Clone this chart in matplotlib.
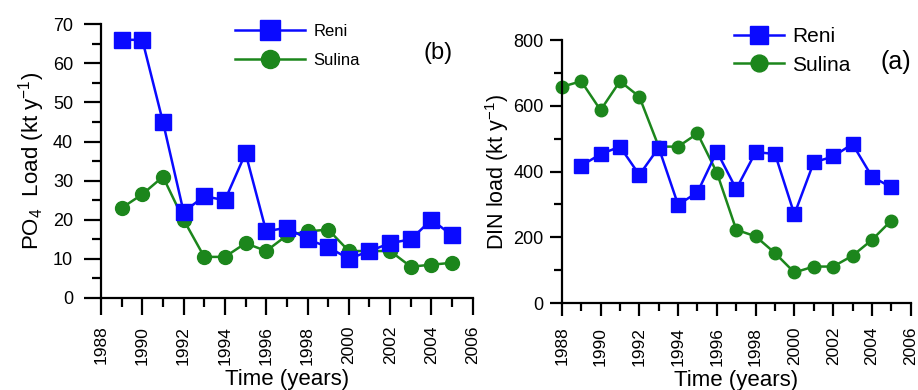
import matplotlib
matplotlib.use('Agg')
import matplotlib.pyplot as plt
from matplotlib.ticker import MultipleLocator

plt.rcParams['font.family'] = ['Liberation Sans', 'DejaVu Sans']
plt.rcParams['mathtext.fontset'] = 'custom'
plt.rcParams['mathtext.rm'] = 'Liberation Sans'
plt.rcParams['mathtext.it'] = 'Liberation Sans:italic'

# PO4 loads (kt/y), 1989-2005
po4_years = list(range(1989, 2006))
po4_reni = [66, 66, 45, 22, 26, 25, 37, 17, 18, 15, 13, 10, 12, 14, 15, 20, 16]
po4_sulina = [23, 26.5, 31, 20, 10.5, 10.5, 14, 12, 16, 17, 17.5, 12, 12, 12, 8, 8.5, 9]

# DIN loads (kt/y)
din_reni_years = list(range(1989, 2006))
din_reni = [418, 453, 476, 390, 473, 299, 337, 461, 347, 459, 454, 270, 428, 446, 484, 385, 352]
din_sulina_years = list(range(1988, 2006))
din_sulina = [658, 675, 587, 675, 628, 476, 476, 516, 397, 223, 203, 152, 93, 111, 111, 144, 192, 251]

blue = '#0a0aff'
green = '#1c861c'

fig = plt.figure(figsize=(9.18, 3.9), dpi=100)
ax1 = fig.add_axes([0.110, 0.236, 0.405, 0.702])
ax2 = fig.add_axes([0.612, 0.223, 0.380, 0.674])


def style_axis(ax, ymax, ymajor, yminor, major_len, minor_len, ypad):
    ax.set_xlim(1988, 2006)
    ax.set_ylim(0, ymax)
    ax.xaxis.set_major_locator(MultipleLocator(2))
    ax.xaxis.set_minor_locator(MultipleLocator(1))
    ax.yaxis.set_major_locator(MultipleLocator(ymajor))
    ax.yaxis.set_minor_locator(MultipleLocator(yminor))
    for s in ('top', 'right'):
        ax.spines[s].set_visible(False)
    for s in ('left', 'bottom'):
        ax.spines[s].set_linewidth(1.6)
    ax.tick_params(which='major', direction='out', length=major_len, width=1.6)
    ax.tick_params(which='minor', direction='out', length=minor_len, width=1.6)
    ax.tick_params(axis='y', labelsize=13, pad=ypad)
    ax.tick_params(axis='x', labelrotation=90, labelsize=12.5, pad=8)


# (b) PO4 panel
ax1.plot(po4_years, po4_reni, '-s', color=blue, lw=1.8, ms=11.5, label='Reni', clip_on=False, zorder=3)
ax1.plot(po4_years, po4_sulina, '-o', color=green, lw=1.8, ms=10, label='Sulina', clip_on=False, zorder=2)
style_axis(ax1, 70, 10, 5, 12, 6.5, 8)
ax1.set_ylabel(r'PO$_4$  Load (kt y$^{-1}$)', fontsize=16, labelpad=4)
ax1.set_xlabel('Time (years)', fontsize=16, labelpad=3)
ax1.legend(loc='upper left', bbox_to_anchor=(0.32, 1.055), frameon=False, fontsize=12,
           handlelength=4.2, markerscale=1.3, labelspacing=0.85, handletextpad=0.5)
ax1.text(0.945, 0.894, '(b)', transform=ax1.transAxes, fontsize=17, ha='right', va='center')

# (a) DIN panel
ax2.plot(din_reni_years, din_reni, '-s', color=blue, lw=1.8, ms=9.5, label='Reni', clip_on=False, zorder=3)
ax2.plot(din_sulina_years, din_sulina, '-o', color=green, lw=1.8, ms=9, label='Sulina', clip_on=False, zorder=2)
style_axis(ax2, 800, 200, 100, 9, 5.5, 4)
ax2.set_ylabel(r'DIN load (kt y$^{-1}$)', fontsize=15.5, labelpad=2)
ax2.set_xlabel('Time (years)', fontsize=16, labelpad=3)
ax2.legend(loc='upper left', bbox_to_anchor=(0.44, 1.12), frameon=False, fontsize=15,
           handlelength=2.4, markerscale=1.35, labelspacing=0.45, handletextpad=0.4)
ax2.text(1.0, 0.916, '(a)', transform=ax2.transAxes, fontsize=18, ha='right', va='center')

fig.savefig('out.png', dpi=100)
